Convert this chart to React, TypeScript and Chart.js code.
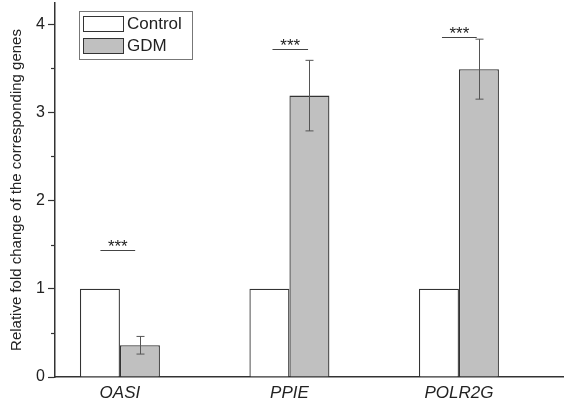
import React, { useEffect, useRef } from "react";
import { Chart, registerables } from "chart.js";

Chart.register(...registerables);

const genes = ["OASI", "PPIE", "POLR2G"];
const genePos = [1, 2, 3];
const controlValues = [1.0, 1.0, 1.0];
const gdmValues = [0.36, 3.19, 3.49];
const gdmErrors = [0.1, 0.4, 0.34];
const yTicks = [0, 1, 2, 3, 4];
const yMinorTicks = [0.5, 1.5, 2.5, 3.5];
const sigLabels = ["***", "***", "***"];
const sigY = [1.44, 3.72, 3.85];
const sigXStart = [0.885, 1.9, 2.9];
const sigXEnd = [1.09, 2.11, 3.105];

const FONT = "'Liberation Sans', Arial, sans-serif";

const overlayPlugin = {
  id: "overlay",
  afterDatasetsDraw(chart: any) {
    const ctx = chart.ctx;
    const xs = chart.scales.x;
    const ys = chart.scales.y;
    const area = chart.chartArea;
    ctx.save();
    // minor y ticks
    ctx.strokeStyle = "#333";
    ctx.lineWidth = 1.2;
    yMinorTicks.forEach((v) => {
      const py = Math.round(ys.getPixelForValue(v)) + 0.5;
      ctx.beginPath();
      ctx.moveTo(area.left - 4, py);
      ctx.lineTo(area.left, py);
      ctx.stroke();
    });
    // error bars
    const meta = chart.getDatasetMeta(1);
    ctx.strokeStyle = "#555";
    ctx.lineWidth = 1;
    meta.data.forEach((bar: any, i: number) => {
      const x = Math.round(bar.x) + 0.5;
      const top = ys.getPixelForValue(gdmValues[i] + gdmErrors[i]);
      const bot = ys.getPixelForValue(gdmValues[i] - gdmErrors[i]);
      ctx.beginPath();
      ctx.moveTo(x, top);
      ctx.lineTo(x, bot);
      ctx.moveTo(x - 4, top);
      ctx.lineTo(x + 4, top);
      ctx.moveTo(x - 4, bot);
      ctx.lineTo(x + 4, bot);
      ctx.stroke();
    });
    // significance
    ctx.strokeStyle = "#444";
    ctx.fillStyle = "#222";
    ctx.lineWidth = 1;
    ctx.font = `17px ${FONT}`;
    ctx.textAlign = "center";
    ctx.textBaseline = "alphabetic";
    sigLabels.forEach((lab, i) => {
      const x1 = xs.getPixelForValue(sigXStart[i]);
      const x2 = xs.getPixelForValue(sigXEnd[i]);
      const y = Math.round(ys.getPixelForValue(sigY[i])) + 0.5;
      ctx.beginPath();
      ctx.moveTo(x1, y);
      ctx.lineTo(x2, y);
      ctx.stroke();
      ctx.fillText(lab, (x1 + x2) / 2, y + 1);
    });
    // legend
    ctx.strokeStyle = "#777";
    ctx.lineWidth = 1;
    ctx.strokeRect(79.5, 11.5, 113, 48);
    ctx.strokeStyle = "#333";
    ctx.fillStyle = "#ffffff";
    ctx.fillRect(83.5, 16.5, 40, 15);
    ctx.strokeRect(83.5, 16.5, 40, 15);
    ctx.fillStyle = "#c0c0c0";
    ctx.fillRect(83.5, 38.5, 40, 15);
    ctx.strokeRect(83.5, 38.5, 40, 15);
    ctx.fillStyle = "#222";
    ctx.font = `17px ${FONT}`;
    ctx.textAlign = "left";
    ctx.textBaseline = "middle";
    ctx.fillText("Control", 127, 24);
    ctx.fillText("GDM", 127, 46);
    ctx.restore();
  },
};

export default function App() {
  const ref = useRef<HTMLCanvasElement | null>(null);
  useEffect(() => {
    document.body.style.margin = "0";
    const canvas = ref.current;
    if (!canvas) return;
    const chart = new Chart(canvas, {
      type: "bar",
      data: {
        datasets: [
          {
            label: "Control",
            data: genePos.map((x, i) => ({ x, y: controlValues[i] })),
            backgroundColor: "#ffffff",
            borderColor: "#333",
            borderWidth: 1.3,
            categoryPercentage: 0.472,
            barPercentage: 1,
          },
          {
            label: "GDM",
            data: genePos.map((x, i) => ({ x, y: gdmValues[i] })),
            backgroundColor: "#c0c0c0",
            borderColor: "#333",
            borderWidth: 1.3,
            categoryPercentage: 0.472,
            barPercentage: 1,
          },
        ],
      },
      options: {
        animation: false,
        responsive: false,
        maintainAspectRatio: false,
        layout: { padding: { top: 3, right: 3, left: 0, bottom: 0 } },
        plugins: { legend: { display: false }, tooltip: { enabled: false } },
        scales: {
          x: {
            type: "linear",
            offset: false,
            min: 0.617,
            max: 3.614,
            afterBuildTicks: (s: any) => {
              s.ticks = genePos.map((v) => ({ value: v }));
            },
            afterFit: (s: any) => {
              s.height = 25;
              s.paddingLeft = 0;
              s.paddingRight = 0;
            },
            grid: { drawOnChartArea: false, drawTicks: false, offset: false },
            border: { color: "#333", width: 1.5 },
            ticks: {
              padding: 6,
              color: "#222",
              font: { family: FONT, size: 17, style: "italic" },
              callback: (v: any) => genes[genePos.indexOf(Number(v))] ?? "",
              maxRotation: 0,
              autoSkip: false,
            },
          },
          y: {
            min: 0,
            max: 4.24,
            afterBuildTicks: (s: any) => {
              s.ticks = yTicks.map((v) => ({ value: v }));
            },
            afterFit: (s: any) => {
              s.width = 55;
              s.paddingTop = 0;
              s.paddingBottom = 0;
            },
            grid: { drawOnChartArea: false, tickLength: 7, tickColor: "#333", tickWidth: 1.2 },
            border: { color: "#333", width: 1.5 },
            ticks: {
              padding: 3,
              color: "#222",
              font: { family: FONT, size: 16 },
              callback: (v: any) => String(v),
            },
            title: {
              display: true,
              text: "Relative fold change of the corresponding genes",
              color: "#222",
              font: { family: FONT, size: 15 },
              padding: { top: 8, bottom: 2 },
            },
          },
        },
      },
      plugins: [overlayPlugin],
    } as any);
    return () => chart.destroy();
  }, []);
  return (
    <div style={{ width: 566, height: 402, background: "#fff" }}>
      <canvas ref={ref} width={566} height={402} style={{ display: "block" }} />
    </div>
  );
}
